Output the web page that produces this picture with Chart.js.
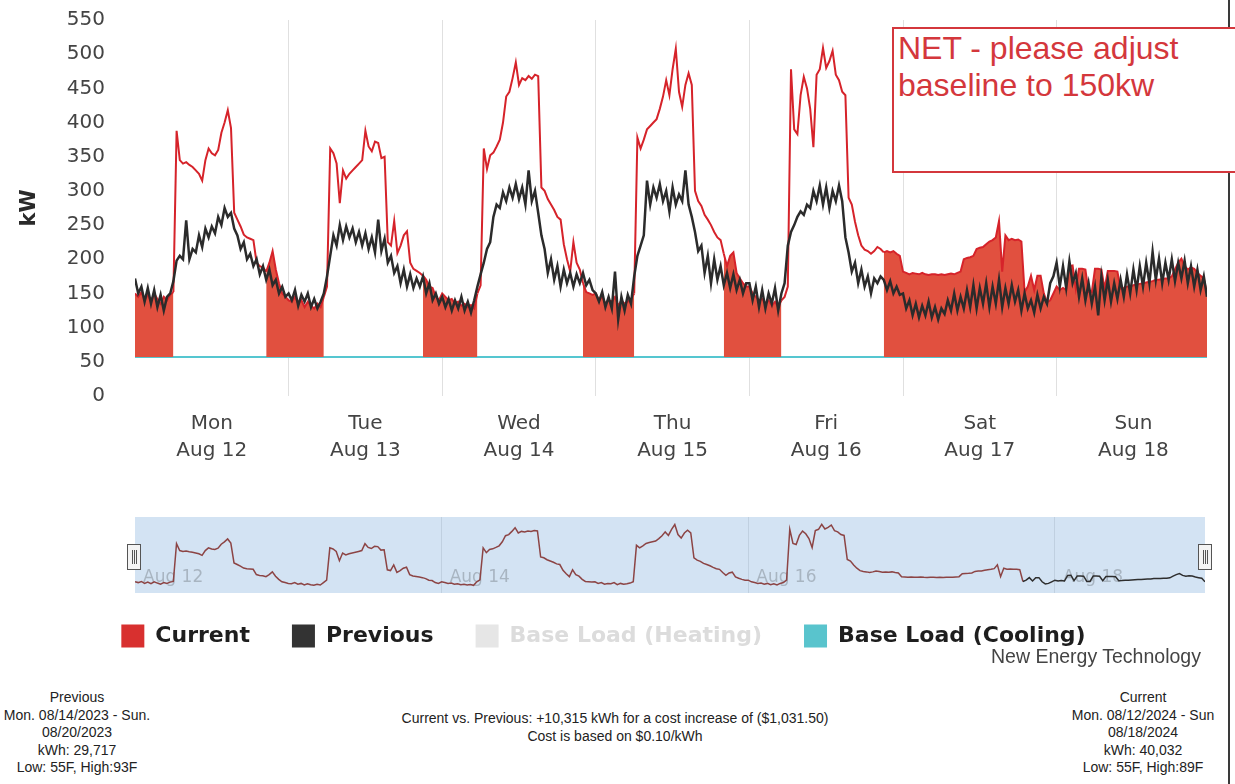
<!DOCTYPE html>
<html>
<head>
<meta charset="utf-8">
<script src="https://cdn.jsdelivr.net/npm/chart.js@4.4.1/dist/chart.umd.min.js"></script>
<style>
html,body{margin:0;padding:0;background:#fff;width:1235px;height:784px;overflow:hidden;position:relative;font-family:"Liberation Sans",Arial,sans-serif;}
#main{position:absolute;left:0;top:0;}
#nav{position:absolute;left:0;top:505px;}
.edge{position:absolute;left:1228px;top:0;width:2px;height:784px;background:#3a3a3a;}
.note{position:absolute;left:892px;top:27px;width:400px;height:146px;border:2px solid #d4373c;background:#fff;color:#d4373c;font:32px/37px "Liberation Sans",Arial,sans-serif;padding:1px 0 0 4px;box-sizing:border-box;}
.foot{position:absolute;font:14px/17.5px "Liberation Sans",Arial,sans-serif;color:#222;text-align:center;white-space:nowrap;}
.credit{position:absolute;left:991px;top:645px;font:19.5px "Liberation Sans",Arial,sans-serif;color:#444;white-space:nowrap;}
</style>
</head>
<body>
<div class="edge"></div>
<canvas id="main" width="1235" height="660"></canvas>
<canvas id="nav" width="1235" height="100"></canvas>
<div class="note">NET - please adjust<br>baseline to 150kw</div>
<div class="credit">New Energy Technology</div>
<div class="foot" style="left:0;top:689px;width:154px;">Previous<br>Mon. 08/14/2023 - Sun.<br>08/20/2023<br>kWh: 29,717<br>Low: 55F, High:93F</div>
<div class="foot" style="left:380px;top:710px;width:470px;">Current vs. Previous: +10,315 kWh for a cost increase of ($1,031.50)<br>Cost is based on $0.10/kWh</div>
<div class="foot" style="left:1063px;top:689px;width:160px;">Current<br>Mon. 08/12/2024 - Sun<br>08/18/2024<br>kWh: 40,032<br>Low: 55F, High:89F</div>
<script>
// ---- data ----
const dayNames = ['Mon', 'Tue', 'Wed', 'Thu', 'Fri', 'Sat', 'Sun'];
const dayDates = ['Aug 12', 'Aug 13', 'Aug 14', 'Aug 15', 'Aug 16', 'Aug 17', 'Aug 18'];
const stepHours = 0.5; // half-hourly readings

// Current (kW), 48 readings per day
const currentKw = [
  // Mon
  150,145,152,140,148,138,150,142,135,145,140,148, 152,388,345,340,342,338,335,330,325,315,345,362,
  355,352,360,385,400,418,392,268,258,248,236,232, 230,228,195,190,188,182,195,212,185,165,150,145,
  // Tue
  140,138,145,135,140,130,138,132,128,135,130,145, 160,362,355,340,282,330,318,325,330,335,340,345,
  388,365,358,372,370,348,350,225,220,256,209,220, 235,241,195,186,183,180,176,170,160,158,145,140,
  // Wed
  150,145,140,142,135,138,132,135,130,133,128,150, 162,362,332,352,356,365,375,400,438,445,465,488,
  455,465,462,468,464,470,468,305,300,288,280,272, 262,258,222,200,182,225,195,185,165,152,150,148,
  // Thu
  150,140,145,135,140,138,145,132,140,135,138,142, 150,378,362,375,390,395,400,405,420,438,462,440,
  478,508,445,423,455,472,455,300,285,278,265,258, 250,240,232,228,208,190,205,210,180,172,165,160,
  // Fri
  160,150,145,140,142,135,140,132,138,130,140,145, 160,478,390,383,440,467,450,420,364,470,478,509,
  480,490,505,470,462,445,440,290,280,255,235,220, 214,212,208,212,218,215,210,212,210,212,208,205,
  // Sat
  182,180,178,180,179,178,180,178,177,178,178,177, 178,177,178,179,178,180,182,200,202,203,205,215,
  217,218,222,226,228,232,256,182,235,228,230,228, 229,226,152,160,176,155,176,176,150,137,140,150,
  // Sun
  160,155,158,155,190,191,157,186,186,185,152,152, 186,186,185,157,183,183,183,182,157,158,160,160,
  162,163,164,165,166,167,168,170,170,171,172,172, 175,185,195,201,190,185,188,186,180,176,172,150
];

// Previous (kW), 48 readings per day
const previousKw = [
  // Mon
  172,150,160,138,158,135,155,130,148,125,145,150, 168,198,205,200,257,200,215,210,235,218,245,232,
  248,238,262,250,275,262,268,245,235,215,225,200, 208,190,200,178,190,170,185,162,170,150,160,145,
  // Tue
  150,140,155,132,148,138,150,130,142,128,138,150, 175,205,235,220,250,228,248,232,245,225,240,220,
  238,215,232,210,258,212,230,195,205,180,190,165, 185,160,178,158,172,160,175,150,165,140,150,135,
  // Wed
  145,130,142,125,140,128,145,125,138,122,140,160, 178,195,215,225,262,280,275,298,285,305,290,310,
  288,305,280,330,285,300,268,235,215,180,200,170, 190,160,185,165,180,160,178,165,180,162,170,155,
  // Thu
  150,138,152,130,145,128,182,112,145,125,148,135, 175,205,220,235,315,280,305,290,310,285,300,270,
  305,280,295,285,330,280,262,240,212,220,180,205, 165,200,170,190,162,180,158,178,155,170,150,165,
  // Fri
  165,140,160,130,155,128,150,135,158,125,150,165, 220,240,250,262,270,265,280,275,300,285,308,280,
  305,275,300,285,308,285,232,210,182,195,165,185, 160,175,150,172,165,175,170,155,168,150,160,148,
  // Sat
  150,128,140,118,135,115,132,118,138,115,130,112, 128,120,140,125,150,125,145,128,155,130,162,128,
  158,135,165,130,160,135,170,130,158,135,162,138, 155,125,150,128,140,122,148,128,145,135,165,175,
  // Sun
  195,160,190,158,197,165,180,145,172,140,165,135, 160,118,175,140,170,138,165,142,170,145,178,150,
  185,155,190,160,195,165,211,170,201,165,195,170, 200,168,195,172,198,165,190,160,185,155,175,145
];

const baseCoolingKw = [57, 57];           // flat base load (start, end of week)
const baseHeatingKw = [];                 // no heating base load shown
// occupied (unshaded) hours per day, [start, end)
const occupiedStart = [6, 5.5, 5.5, 6, 5, null, null];
const occupiedEnd   = [20.5, 21, 22, 20, 21, null, null];

const legendNames = ['Current', 'Previous', 'Base Load (Heating)', 'Base Load (Cooling)'];

// ---- helpers ----
const lastHour = (currentKw.length - 1) * stepHours;
const toPts = arr => arr.map((v, i) => ({x: i * stepHours, y: v}));
const coolingPts = baseCoolingKw.map((v, i) => ({x: i === 0 ? 0 : lastHour, y: v}));
function isOccupied(i) {
  const h = i * stepHours, d = Math.floor(h / 24), hd = h - 24 * d;
  const s = occupiedStart[d], e = occupiedEnd[d];
  return s != null && hd >= s && hd < e;
}
const FILL = '#e1503f';
const TICK_FONT = 'DejaVu Sans';

const legendStyles = [
  {box: '#d8302f', text: '#1e1e1e'},
  {box: '#333333', text: '#1e1e1e'},
  {box: '#e6e6e6', text: '#dcdcdc'},
  {box: '#59c4cd', text: '#1e1e1e'}
];

new Chart(document.getElementById('main'), {
  type: 'line',
  data: {
    datasets: [
      {label: legendNames[0], data: toPts(currentKw), borderColor: '#d6232a', backgroundColor: FILL,
       borderWidth: 2, pointRadius: 0, order: 1, fill: {target: 3},
       segment: {backgroundColor: c => isOccupied(c.p0DataIndex) ? 'rgba(0,0,0,0)' : FILL}},
      {label: legendNames[1], data: toPts(previousKw), borderColor: '#2b2b2b', borderWidth: 2.5,
       pointRadius: 0, fill: false, order: 0},
      {label: legendNames[2], data: baseHeatingKw, borderColor: '#dddddd', pointRadius: 0, fill: false, order: 3},
      {label: legendNames[3], data: coolingPts, borderColor: '#55c6d0', backgroundColor: '#55c6d0',
       borderWidth: 2, pointRadius: 0, fill: false, order: 2}
    ]
  },
  options: {
    responsive: false, animation: false, events: [],
    layout: {padding: {left: 0, right: 28, top: 20, bottom: 2.5}},
    plugins: {
      tooltip: {enabled: false},
      legend: {
        position: 'bottom',
        labels: {
          boxWidth: 23, boxHeight: 23, padding: 42, color: '#1e1e1e',
          font: {family: TICK_FONT, size: 22, weight: 'bold'},
          generateLabels: () => legendNames.map((n, i) => ({
            text: n, fillStyle: legendStyles[i].box, strokeStyle: legendStyles[i].box, lineWidth: 0,
            fontColor: legendStyles[i].text, hidden: false, datasetIndex: i
          }))
        }
      }
    },
    scales: {
      x: {
        type: 'linear', min: 0, max: lastHour,
        afterBuildTicks: ax => { ax.ticks = dayNames.flatMap((d, i) => [{value: i * 24}, {value: i * 24 + 12}]); },
        afterFit: ax => { ax.height = 186.5; },
        border: {display: false},
        grid: {drawTicks: false, lineWidth: 1,
               color: c => (c.tick && c.tick.value % 24 === 0 && c.tick.value > 0) ? '#e0e0e0' : 'rgba(0,0,0,0)'},
        ticks: {autoSkip: false, maxRotation: 0, padding: 14, color: '#444',
                font: {family: TICK_FONT, size: 20, lineHeight: 1.35},
                callback: v => (v % 24 === 12) ? [dayNames[(v - 12) / 24], dayDates[(v - 12) / 24]] : ''}
      },
      y: {
        min: 0, max: 550,
        afterFit: ax => { ax.width = 135; ax.paddingTop = 12; ax.paddingBottom = 0; },
        border: {display: false},
        grid: {display: false, drawTicks: false},
        ticks: {stepSize: 50, padding: 30, color: '#444', font: {family: TICK_FONT, size: 20}},
        title: {display: true, text: 'kW', color: '#2a2a2a', padding: {top: 17, bottom: 0},
                font: {family: TICK_FONT, size: 21, weight: 'bold'}}
      }
    }
  }
});

// ---- navigator ----
const bandPlugin = {
  id: 'band',
  beforeDraw(chart) {
    const {ctx, chartArea: a} = chart;
    ctx.save();
    ctx.fillStyle = '#d3e3f3';
    ctx.fillRect(a.left, a.top, a.right - a.left, a.bottom - a.top);
    ctx.restore();
  },
  afterDraw(chart) {
    const {ctx, chartArea: a} = chart;
    const cy = (a.top + a.bottom) / 2 + 2;
    [a.left - 1, a.right].forEach(x => {
      ctx.save();
      ctx.fillStyle = '#f4f4f4';
      ctx.strokeStyle = '#555';
      ctx.lineWidth = 1;
      ctx.fillRect(x - 7, cy - 13, 14, 26);
      ctx.strokeRect(x - 7 + 0.5, cy - 13 + 0.5, 13, 25);
      ctx.beginPath();
      [-2, 0, 2].forEach(dx => { ctx.moveTo(x + dx + 0.5, cy - 7); ctx.lineTo(x + dx + 0.5, cy + 7); });
      ctx.stroke();
      ctx.restore();
    });
  }
};

new Chart(document.getElementById('nav'), {
  type: 'line',
  data: {
    datasets: [{
      data: toPts(currentKw), borderColor: '#8c4444', borderWidth: 1.5, pointRadius: 0, fill: false,
      segment: {borderColor: c => (c.p0DataIndex * stepHours >= 139) ? '#2e2e2e' : '#8c4444'}
    }]
  },
  options: {
    responsive: false, animation: false, events: [],
    layout: {padding: {left: 135, right: 30, top: 12, bottom: 12}},
    plugins: {legend: {display: false}, tooltip: {enabled: false}},
    scales: {
      x: {
        type: 'linear', min: 0, max: lastHour,
        afterBuildTicks: ax => { ax.ticks = [0, 2, 4, 6].map(d => ({value: d * 24})); },
        afterFit: ax => { ax.height = 0; },
        border: {display: false},
        grid: {drawTicks: false, color: c => (c.tick && c.tick.value > 0) ? 'rgba(190,205,222,0.9)' : 'rgba(0,0,0,0)'},
        ticks: {autoSkip: false, maxRotation: 0, align: 'start', mirror: true, labelOffset: 8, padding: 5,
                color: 'rgba(140,150,160,0.6)', font: {family: TICK_FONT, size: 17},
                callback: v => dayDates[v / 24]}
      },
      y: {display: false, min: 80, max: 555}
    }
  },
  plugins: [bandPlugin]
});
</script>
</body>
</html>
